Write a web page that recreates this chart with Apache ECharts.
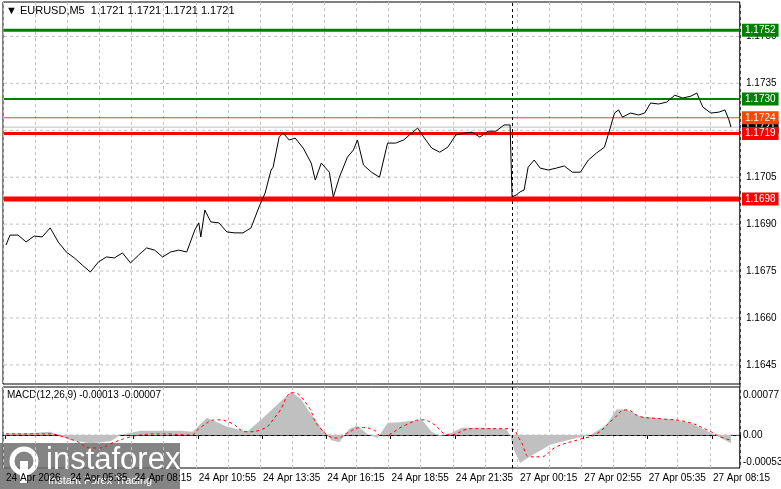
<!DOCTYPE html>
<html><head><meta charset="utf-8">
<script src="https://cdn.jsdelivr.net/npm/echarts@6/dist/echarts.min.js"></script>
<style>html,body{margin:0;padding:0;background:#fff}#c{width:781px;height:489px}</style>
</head><body><div id="c"></div>
<script>
// ---- data ----
const title = '▼ EURUSD,M5  1.1721 1.1721 1.1721 1.1721';
const barCount = 367;
const priceIdx = [1,3,7,11,15,19,23,27,31,35,39,43,47,51,55,59,63,67,71,75,79,83,87,91,95,97,98,100,103,107,111,115,119,123,127,130,133,134,137,139,142,145,149,153,155,158,162,164,167,171,174,176,179,183,187,191,195,199,203,206,209,213,217,221,225,229,233,237,241,245,249,252,253,255,257,259,261,264,267,271,275,279,283,287,291,295,299,302,304,306,308,312,316,319,322,326,330,334,338,342,345,348,352,356,359,361,362];
const priceVal = [1.16833,1.16865,1.16865,1.16843,1.16862,1.16859,1.16888,1.16843,1.16811,1.16792,1.16769,1.16747,1.16779,1.16795,1.16792,1.16808,1.16776,1.16801,1.16824,1.16817,1.16795,1.16811,1.16817,1.16811,1.16881,1.16904,1.16859,1.16945,1.16907,1.16904,1.16875,1.16872,1.16872,1.16888,1.16955,1.16999,1.17073,1.17082,1.17178,1.17191,1.17169,1.17175,1.17143,1.17095,1.17041,1.17095,1.17066,1.16987,1.17050,1.17114,1.17137,1.17169,1.17089,1.17066,1.17050,1.17159,1.17159,1.17169,1.17191,1.17207,1.17178,1.17143,1.17130,1.17146,1.17185,1.17191,1.17194,1.17178,1.17197,1.17197,1.17217,1.17217,1.16987,1.16993,1.17003,1.17009,1.17082,1.17105,1.17079,1.17073,1.17079,1.17086,1.17066,1.17066,1.17105,1.17127,1.17146,1.17210,1.17255,1.17265,1.17242,1.17255,1.17249,1.17255,1.17287,1.17284,1.17290,1.17312,1.17303,1.17309,1.17319,1.17274,1.17255,1.17258,1.17265,1.17233,1.17210];
const histIdx = [1,13,23,27,33,43,53,58,68,88,94,101,111,121,128,136,143,148,153,158,163,167,172,176,181,186,191,198,208,213,217,223,228,238,250,252,254,257,263,272,283,292,300,305,310,317,325,333,342,350,357,362];
const histVal = [0.00003,0.00003,0.00006,0,-0.0001,-0.00016,-0.00012,0,0.00008,0.00008,0.00006,0.00033,0.00016,0.00006,0.00029,0.00058,0.00083,0.00068,0.00039,0.00014,-0.0001,-0.00014,0.00012,0.00017,0.00002,-0.00006,0.00023,0.00025,0.00029,0.00006,-0.00002,0.00004,0.00014,0.00014,0.00012,0,-0.00029,-0.00054,-0.00039,-0.00019,-0.00008,0,0.00019,0.00049,0.00049,0.00035,0.00033,0.00029,0.00023,0.00008,-0.00006,-0.00016];
const sigIdx = [1,23,28,36,43,48,53,61,68,78,93,98,106,113,121,128,136,144,151,157,166,171,178,184,188,200,208,213,222,233,252,257,262,267,275,287,295,303,310,317,327,340,350,357,362];
const sigVal = [0.00002,0.00002,-0.00002,-0.00012,-0.00025,-0.00025,-0.00017,-0.00006,0,0.00002,0,0.00015,0.00029,0.00023,0.00006,0.0001,0.00039,0.00081,0.00058,0.00015,-0.00006,0.00004,0.00014,0.0001,-0.00002,0.00019,0.00029,0.00023,0,0.00012,0.00012,-0.0001,-0.00042,-0.00042,-0.00023,-0.00008,0.00002,0.00029,0.00048,0.00035,0.00031,0.00025,0.0001,-0.00004,-0.0001];
const priceTicks = [1.1645,1.1660,1.1675,1.1690,1.1705,1.1720,1.1735,1.1750];
const levelVals = [1.1721, 1.1724, 1.1730, 1.1752, 1.1719, 1.1698];
const levelColors = ['#000000', '#ff4500', '#008000', '#008000', '#ff0000', '#ff0000'];
const levelLineColors = ['#c0c0c0', '#ff4500', '#008000', '#008000', '#ff0000', '#ff0000'];
const levelWidths = [1, 1, 2, 3, 3, 5];
const macdTicks = [0.00077, 0, -0.00053];
const macdTickLbl = ['0.00077', '0.00', '-0.00053'];
const timeTickIdx = [1,33,65,97,129,161,193,225,257,289,321,353];
const timeTickLbl = ['24 Apr 2026','24 Apr 05:35','24 Apr 08:15','24 Apr 10:55','24 Apr 13:35','24 Apr 16:15','24 Apr 18:55','24 Apr 21:35','27 Apr 00:15','27 Apr 02:55','27 Apr 05:35','27 Apr 08:15'];
const sepIdx = 253;

const cats = Array.from({length: barCount}, (_, i) => String(i));
const lblMap = {}; timeTickIdx.forEach((k, j) => lblMap[k] = timeTickLbl[j]);
const zip = (a, b) => a.map((x, i) => [x, b[i]]);
const font = 'Liberation Sans';
const last = barCount - 1;

function hline(xi, yi, v, color, width, dash, lbl, lblColor, bg, z, dist) {
  return {type: 'line', xAxisIndex: xi, yAxisIndex: yi, data: [[0, v], [last, v]], symbol: 'none', silent: true, z: z,
    lineStyle: {color: color, width: width, type: dash, opacity: width ? 1 : 0},
    endLabel: {show: !!lbl, formatter: lbl || '', color: lblColor, backgroundColor: bg || 'transparent',
      padding: bg ? [2,3,1,3] : 0, fontSize: 10, fontFamily: font, distance: dist}};
}
const series = [];
priceTicks.forEach(v => series.push(hline(0, 0, v, '#c0c0c0', 1, [3,3], v.toFixed(4), '#000', null, 1, 7)));
levelVals.forEach((v, i) => series.push(hline(0, 0, v, levelLineColors[i], levelWidths[i], 'solid', v.toFixed(4), '#fff', levelColors[i], 3 + i, 3)));
macdTicks.forEach((v, i) => series.push(hline(1, 1, v, '#c0c0c0', v === 0 ? 1 : 0, [3,3], macdTickLbl[i], '#000', null, 1, 4)));
series.push({type: 'line', xAxisIndex: 0, yAxisIndex: 0, data: zip(priceIdx, priceVal), symbol: 'none', lineStyle: {color: '#000', width: 1}, z: 10,
  markLine: {silent: true, symbol: 'none', data: [{xAxis: sepIdx, lineStyle: {color: '#000', type: [3,3], width: 1}, label: {show: false}}]}});
series.push({type: 'line', xAxisIndex: 1, yAxisIndex: 1, data: zip(histIdx, histVal), symbol: 'none', lineStyle: {width: 0},
  areaStyle: {color: '#c0c0c0', opacity: 1, origin: 0}, z: 2,
  markLine: {silent: true, symbol: 'none', data: [{xAxis: sepIdx, lineStyle: {color: '#000', type: [3,3], width: 1}, label: {show: false}}]}});
series.push({type: 'line', xAxisIndex: 1, yAxisIndex: 1, data: zip(sigIdx, sigVal), symbol: 'none', smooth: true,
  lineStyle: {color: '#ff0000', width: 1, type: [3,3]}, z: 4});

const chart = echarts.init(document.getElementById('c'), null, {renderer: 'canvas'});
chart.setOption({
  animation: false,
  backgroundColor: '#fff',
  grid: [
    {left: 3, right: 41, top: 2, height: 382, show: true, borderColor: '#000', borderWidth: 1},
    {left: 3, right: 41, top: 387, height: 81, show: true, borderColor: '#000', borderWidth: 1}
  ],
  xAxis: [
    {type: 'category', data: cats, gridIndex: 0, axisLine: {show: false}, axisTick: {show: false}, axisLabel: {show: false},
      splitLine: {show: true, interval: i => i % 16 === 0, lineStyle: {color: '#c0c0c0', type: [3,3]}}},
    {type: 'category', data: cats, gridIndex: 1, axisLine: {show: true, lineStyle: {color: '#000'}},
      axisTick: {show: true, interval: i => lblMap[i] !== undefined, length: 4, lineStyle: {color: '#000'}},
      axisLabel: {show: true, interval: i => lblMap[i] !== undefined, formatter: (v, i) => lblMap[i] || '', align: 'left',
        hideOverlap: false, showMaxLabel: true, color: '#000', fontSize: 10, fontFamily: font, margin: 5},
      splitLine: {show: true, interval: i => i % 16 === 0, lineStyle: {color: '#c0c0c0', type: [3,3]}}}
  ],
  yAxis: [
    {type: 'value', gridIndex: 0, position: 'right', min: 1.16389, max: 1.17610, axisLabel: {show: false}, splitLine: {show: false}, axisLine: {show: false}, axisTick: {show: false}},
    {type: 'value', gridIndex: 1, position: 'right', min: -0.000635, max: 0.00092, axisLabel: {show: false}, splitLine: {show: false}, axisLine: {show: false}, axisTick: {show: false}}
  ],
  series: series,
  graphic: [
    {type: 'line', shape: {x1: 740, y1: 2, x2: 740, y2: 468}, style: {stroke: '#000', lineWidth: 1}},
    {type: 'text', left: 6, top: 5, style: {text: title, fill: '#000', font: '11px ' + font}},
    {type: 'text', left: 7, top: 390, style: {text: 'MACD(12,26,9) -0.00013 -0.00007', fill: '#000', font: '10px ' + font}},
    {type: 'group', left: 0, top: 443, children: [
      {type: 'rect', shape: {x: 0, y: 0, width: 180, height: 46}, style: {fill: 'rgba(110,110,110,0.85)'}},
      {type: 'circle', shape: {cx: 24, cy: 18, r: 12}, style: {fill: 'none', stroke: '#fff', lineWidth: 5}},
      {type: 'rect', shape: {x: 20, y: 18, width: 8, height: 22}, style: {fill: '#fff'}},
      {type: 'text', x: 46, y: 2, style: {text: 'instaforex', fill: '#fff', font: '31px ' + font}},
      {type: 'text', x: 48, y: 32, style: {text: 'Instant Forex Trading', fill: '#fff', font: '11px ' + font}}
    ]}
  ]
});
</script></body></html>
